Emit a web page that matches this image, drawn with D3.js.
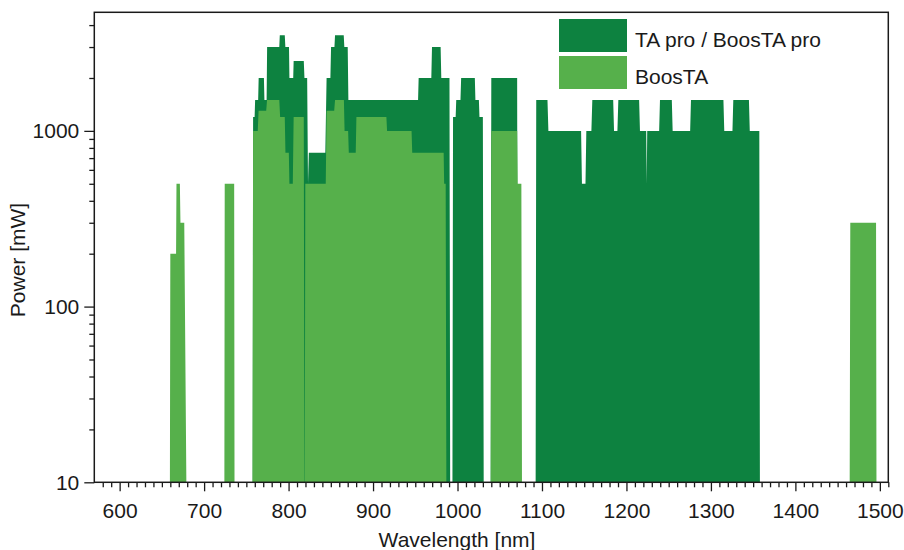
<!DOCTYPE html>
<html>
<head>
<meta charset="utf-8">
<script src="https://cdn.jsdelivr.net/npm/d3@7"></script>
<style>
  body { margin: 0; background: #fff; }
  svg text { font-family: "Liberation Sans", Arial, sans-serif; fill: #1a1a1a; }
</style>
</head>
<body>
<svg id="chart" width="904" height="550"></svg>
<script>
// TA pro / BoosTA pro: wavelength [nm] and power [mW], null = gap between tuning ranges
const taProWavelength = [
  757.5, 758, 759.8, 760.4, 764, 764.6, 770.8, 771.4, 774, 774.6, 789, 789.6, 795.5, 796.2, 800.5, 801,
  805.5, 806, 818, 818.8, 822, 823, 824, 843.5, 845, 849.5, 850.3, 854.3, 855, 865.3, 866, 870, 870.8,
  953.3, 954, 969, 969.8, 980, 980.8, 990.5, 991.3,
  null,
  994, 994.7, 997.8, 998.5, 1003.5, 1004.3, 1020.5, 1021.2, 1025.3, 1026, 1030, 1031,
  null,
  1039.3, 1040, 1070.6, 1071.3,
  null,
  1092.5, 1093.2, 1106.5, 1107.6, 1146.3, 1147.3, 1151.5, 1152.5, 1158.5, 1159.6, 1184.3, 1185.3, 1189.3,
  1190.4, 1215, 1216, 1223.4, 1224, 1224.6, 1238.7, 1239.7, 1253.7, 1254.7, 1275.4, 1276.4, 1314.8, 1315.8,
  1325.5, 1326.5, 1345, 1346, 1357.3, 1358
];
const taProPower = [
  10, 1200, 1200, 1500, 1500, 2000, 2000, 1500, 1500, 3000, 3000, 3500, 3500, 3000, 3000, 2000,
  2000, 2500, 2500, 2000, 2000, 500, 750, 750, 2000, 2000, 3000, 3000, 3500, 3500, 3000, 3000, 1500,
  1500, 2000, 2000, 3000, 3000, 2000, 2000, 10,
  null,
  10, 1200, 1200, 1500, 1500, 2000, 2000, 1500, 1500, 1200, 1200, 10,
  null,
  10, 2000, 2000, 10,
  null,
  10, 1500, 1500, 1000, 1000, 500, 500, 1000, 1000, 1500, 1500, 1000, 1000,
  1500, 1500, 1000, 1000, 500, 1000, 1000, 1500, 1500, 1000, 1000, 1500, 1500, 1000,
  1000, 1500, 1500, 1000, 1000, 10
];

// BoosTA
const boostaWavelength = [
  659.5, 660, 666.8, 667.3, 671.3, 672, 676.5, 679,
  null,
  724, 724.4, 735.6, 736,
  null,
  757.3, 758, 763.5, 764.5, 773.5, 774.5, 789, 790, 795.5, 796.3, 800.3, 801, 805, 806, 818, 818.8,
  null,
  819.2, 819.8, 844, 845, 854, 855, 865.5, 866.3, 870.5, 871.3, 879.5, 880.3, 915.8, 916.6,
  945.6, 946.4, 983.6, 984.2, 986, 986.8,
  null,
  1039.3, 1040, 1070.6, 1071.2, 1075.6, 1076.3,
  null,
  1464.3, 1465, 1495.5, 1496
];
const boostaPower = [
  10, 200, 200, 500, 500, 300, 300, 10,
  null,
  10, 500, 500, 10,
  null,
  10, 1000, 1000, 1300, 1300, 1500, 1500, 1200, 1200, 750, 750, 500, 500, 1200, 1200, 10,
  null,
  10, 500, 500, 1300, 1300, 1500, 1500, 1000, 1000, 750, 750, 1200, 1200, 1000,
  1000, 750, 750, 500, 500, 10,
  null,
  10, 1000, 1000, 500, 500, 10,
  null,
  10, 300, 300, 10
];

const xTicks = [600, 700, 800, 900, 1000, 1100, 1200, 1300, 1400, 1500];
const yTicks = [10, 100, 1000];
const seriesNames = ["TA pro / BoosTA pro", "BoosTA"];
const seriesColors = ["#0d8240", "#56b04b"];

const margin = {top: 12.3, right: 15.7, bottom: 67.7, left: 94.3};
const width = 904 - margin.left - margin.right;
const height = 550 - margin.top - margin.bottom;

const svg = d3.select("#chart");
const g = svg.append("g").attr("transform", `translate(${margin.left},${margin.top})`);

const x = d3.scaleLinear().domain([570, 1510]).range([0, width]);
const y = d3.scaleLog().domain([10, 4730]).range([height, 0]);

const area = d3.area()
  .defined(d => d[1] != null)
  .x(d => x(d[0]))
  .y0(height)
  .y1(d => y(d[1]));

const taPro = d3.zip(taProWavelength, taProPower);
const boosta = d3.zip(boostaWavelength, boostaPower);

g.append("path").datum(taPro).attr("d", area).attr("fill", seriesColors[0]);
g.append("path").datum(boosta).attr("d", area).attr("fill", seriesColors[1]);

// x axis: minor every 10 nm, major every 100 nm
const xMinor = d3.range(580, 1511, 10).filter(v => v % 100 !== 0);
g.append("g")
  .attr("transform", `translate(0,${height})`)
  .call(d3.axisBottom(x).tickValues(xMinor).tickSize(5).tickFormat(""))
  .call(a => a.select(".domain").remove());
g.append("g")
  .attr("transform", `translate(0,${height})`)
  .call(d3.axisBottom(x).tickValues(xTicks).tickSize(9).tickPadding(12).tickFormat(d3.format("d")))
  .call(a => a.select(".domain").remove())
  .call(a => a.selectAll("text").attr("font-size", 21));

// y axis: log minor ticks
const yMinor = [];
[10, 100, 1000].forEach(dec => { for (let k = 2; k <= 9; k++) if (dec * k <= 4730) yMinor.push(dec * k); });
g.append("g")
  .call(d3.axisLeft(y).tickValues(yMinor).tickSize(5).tickFormat(""))
  .call(a => a.select(".domain").remove());
g.append("g")
  .call(d3.axisLeft(y).tickValues(yTicks).tickSize(10).tickPadding(5).tickFormat(d3.format("d")))
  .call(a => a.select(".domain").remove())
  .call(a => a.selectAll("text").attr("font-size", 21));

g.selectAll(".tick line").attr("stroke", "#1a1a1a").attr("stroke-width", 1.3);
g.selectAll(".tick text").attr("fill", "#1a1a1a").attr("font-family", '"Liberation Sans", Arial, sans-serif');

// frame
g.append("rect")
  .attr("width", width).attr("height", height)
  .attr("fill", "none").attr("stroke", "#1a1a1a").attr("stroke-width", 1.5);

// axis titles
svg.append("text")
  .attr("x", 457).attr("y", 547)
  .attr("text-anchor", "middle").attr("font-size", 21)
  .text("Wavelength [nm]");
svg.append("text")
  .attr("transform", "translate(25,260) rotate(-90)")
  .attr("text-anchor", "middle").attr("font-size", 21)
  .text("Power [mW]");

// legend
const legend = svg.append("g").attr("transform", "translate(559,19)");
seriesNames.forEach((name, i) => {
  legend.append("rect").attr("x", 0).attr("y", i * 37).attr("width", 68).attr("height", 33)
    .attr("fill", seriesColors[i]);
  legend.append("text").attr("x", 76).attr("y", i * 37 + 27.5).attr("font-size", 21).text(name);
});
</script>
</body>
</html>
